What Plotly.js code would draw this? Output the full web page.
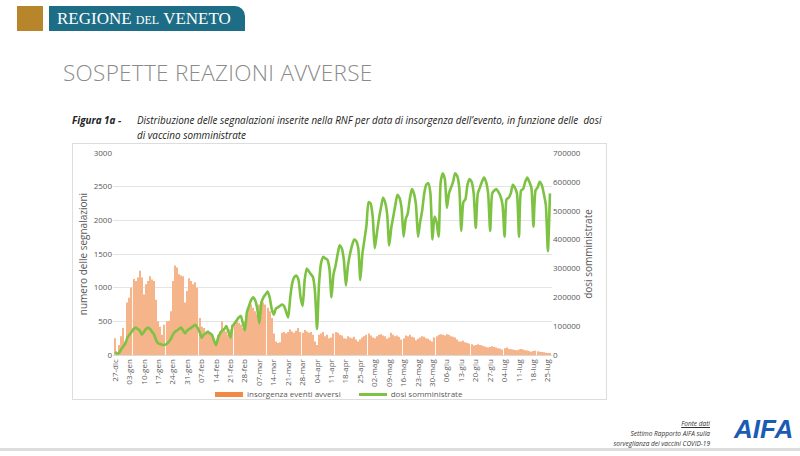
<!DOCTYPE html>
<html>
<head>
<meta charset="utf-8">
<script src="https://cdn.plot.ly/plotly-3.0.1.min.js"></script>
<style>
body { margin: 0; width: 800px; height: 456px; background: #fff; font-family: "Open Sans", sans-serif; position: relative; overflow: hidden; }
#banner { position: absolute; left: 17px; top: 6px; width: 228px; height: 25px; }
#logo { position: absolute; left: 0; top: 0; width: 26px; height: 25px; background: #b8862a; }
#name { position: absolute; left: 32px; top: 0; width: 196px; height: 25px; background: #1e6d86; border-radius: 0 10px 0 0; color: #fff; font-family: "Liberation Serif", serif; font-size: 17px; line-height: 25px; padding-left: 8px; box-sizing: border-box; white-space: nowrap; }
#title { position: absolute; left: 63px; top: 57px; color: #8a8a8a; font-size: 22.5px; font-weight: 300; letter-spacing: 0.3px; }
#cap { position: absolute; left: 72px; top: 113px; font-size: 9.9px; font-style: italic; color: #222; line-height: 15px; white-space: nowrap; }
#cap b { display: inline-block; width: 65px; }
#plot { position: absolute; left: 72px; top: 143px; width: 535px; height: 257px; border: 1px solid #ddd; box-sizing: border-box; }
#leg { position: absolute; left: 215px; top: 388px; font-size: 8px; color: #595959; }
#leg span.b { display: inline-block; width: 28px; height: 5px; background: #F08A45; vertical-align: middle; margin-right: 4px; }
#leg span.l { display: inline-block; width: 28px; height: 3px; background: #7DC242; vertical-align: middle; margin: 0 4px 0 18px; }
#fonte { position: absolute; left: 590px; top: 419px; width: 120px; text-align: right; font-size: 6.5px; font-style: italic; color: #333; line-height: 10px; }
#aifa { position: absolute; left: 734px; top: 414px; font-family: "Liberation Sans", sans-serif; font-size: 26px; font-weight: bold; color: #1a5bb5; font-style: italic; }
#line { position: absolute; left: 0; top: 448px; width: 800px; height: 3px; background: #ddd; }
</style>
</head>
<body>
<div id="banner"><div id="logo"></div><div id="name">REGIONE <span style="font-size:12px">DEL</span> VENETO</div></div>
<div id="title">SOSPETTE REAZIONI AVVERSE</div>
<div id="cap"><b>Figura 1a -</b>Distribuzione delle segnalazioni inserite nella RNF per data di insorgenza dell’evento, in funzione delle &nbsp;dosi<br><span style="display:inline-block;width:65px"></span>di vaccino somministrate</div>
<div id="plot"></div>
<div id="leg"><span class="b"></span>insorgenza eventi avversi<span class="l"></span>dosi somministrate</div>
<div id="fonte"><u>Fonte dati</u><br>Settimo Rapporto AIFA sulla<br>sorveglianza dei vaccini COVID-19</div>
<div id="aifa">AIFA</div>
<div id="line"></div>
<script>
const startDate = '2020-12-27'

const segnalazioni = [
  250, 30, 150, 280, 400, 200, 780,
  850, 1000, 1130, 1100, 1150, 1250, 1150,
  900, 1050, 1100, 1170, 1120, 1100, 820,
  500, 420, 300, 450, 500, 510, 650,
  1100, 1330, 1300, 1200, 1180, 1170, 780,
  950, 1140, 1100, 1050, 1080, 1000, 550,
  420, 400, 350, 360, 340, 300, 200,
  200, 300, 350, 500, 400, 350, 300,
  380, 450, 480, 500, 480, 450, 400,
  500, 650, 700, 750, 700, 650, 600,
  750, 800, 780, 750, 700, 650, 550,
  320, 200, 180, 190, 330, 340, 320,
  340, 380, 350, 330, 360, 400, 340,
  330, 370, 350, 330, 340, 300, 200,
  150, 300, 320, 340, 280, 300, 250,
  260, 320, 340, 330, 300, 290, 250,
  240, 280, 260, 250, 270, 230, 200,
  230, 260, 280, 300, 320, 290, 260,
  250, 280, 300, 310, 290, 280, 240,
  260, 330, 300, 280, 290, 270, 230,
  250, 290, 280, 300, 270, 260, 220,
  240, 260, 280, 270, 250, 240, 220,
  200, 260, 280, 300, 310, 300, 290,
  310, 300, 280, 270, 260, 230, 200,
  200, 210, 190, 180, 170, 160, 140,
  150, 160, 150, 140, 130, 120, 110,
  120, 130, 120, 110, 100, 95, 80,
  100, 110, 90, 85, 80, 75, 70,
  80, 90, 80, 70, 65, 60, 50,
  60, 65, 55, 50, 45, 40, 35,
  20, 15
]

// migliaia di dosi
const dosiK = [
  10, 5, 8, 20, 30, 40, 60,
  70, 80, 90, 95, 90, 85, 70,
  80, 90, 95, 90, 80, 70, 50,
  40, 38, 35, 35, 38, 45, 55,
  70, 80, 85, 90, 95, 85, 75,
  85, 90, 95, 100, 105, 95, 80,
  60, 70, 75, 80, 75, 70, 50,
  35, 60, 75, 85, 90, 100, 80,
  60, 100, 110, 120, 130, 135, 110,
  85, 150, 170, 190, 200, 190, 160,
  110, 180, 200, 210, 220, 200, 160,
  140, 160, 165, 170, 175, 170, 150,
  130, 200, 250, 270, 275, 260, 200,
  170, 260, 300, 290, 280, 270, 220,
  90, 250, 320, 340, 335, 330, 300,
  200, 280, 310, 350, 380, 370, 330,
  240, 310, 350, 380, 400, 395, 370,
  260, 350, 400, 450, 530, 525, 480,
  370, 420, 470, 510, 545, 530, 490,
  380, 440, 480, 520, 555, 545, 510,
  410, 470, 490, 540, 575, 560, 520,
  410, 460, 500, 560, 590, 595, 560,
  400, 480, 460, 410, 600, 630, 610,
  510, 560, 580, 600, 630, 620, 580,
  430, 530, 540, 590, 610, 600, 560,
  440, 560, 580, 600, 615, 600, 560,
  430, 560, 570, 575, 565, 550, 520,
  410, 540, 545, 560, 590, 580, 560,
  410, 570, 575, 600, 615, 600, 580,
  445, 570, 580, 600, 590, 560, 520,
  360, 560
]

const tickLabels = ['27-dic', '03-gen', '10-gen', '17-gen', '24-gen', '31-gen', '07-feb', '14-feb',
  '21-feb', '28-feb', '07-mar', '14-mar', '21-mar', '28-mar', '04-apr', '11-apr', '18-apr',
  '25-apr', '02-mag', '09-mag', '16-mag', '23-mag', '30-mag', '06-giu', '13-giu', '20-giu',
  '27-giu', '04-lug', '11-lug', '18-lug', '25-lug']

function dayString(i) {
  const d = new Date(startDate + 'T00:00:00Z')
  d.setUTCDate(d.getUTCDate() + i)
  return d.toISOString().slice(0, 10)
}

const days = segnalazioni.map((v, i) => dayString(i))
const tickVals = tickLabels.map((t, i) => dayString(i * 7))
const dosi = dosiK.map(v => v * 1000)

const traceBars = {
  x: days, y: segnalazioni, type: 'bar', name: 'insorgenza eventi avversi',
  marker: { color: '#F6B48A' }
}
const traceDosi = {
  x: days, y: dosi, type: 'scatter', mode: 'lines', name: 'dosi somministrate',
  yaxis: 'y2', line: { color: '#7DC242', width: 2.6, shape: 'spline', smoothing: 0.6 }
}

const axisFont = { family: 'Open Sans, sans-serif', size: 8, color: '#595959' }
const titleFont = { family: 'Open Sans, sans-serif', size: 10, color: '#595959' }

const layout = {
  width: 533, height: 255,
  margin: { l: 40, r: 54, t: 9, b: 44 },
  paper_bgcolor: 'rgba(0,0,0,0)', plot_bgcolor: 'rgba(0,0,0,0)',
  bargap: 0.45, showlegend: false,
  xaxis: {
    type: 'date', tickvals: tickVals, ticktext: tickLabels, tickangle: -90, automargin: false,
    tickfont: axisFont, showgrid: false, showline: true, linecolor: '#d9d9d9',
    range: [dayString(-1), dayString(212)]
  },
  yaxis: {
    range: [0, 3000], dtick: 500, tickfont: axisFont, gridcolor: '#e4e4e4', zeroline: false, automargin: false,
    title: { text: 'numero delle segnalazioni', font: titleFont, standoff: 4 }
  },
  yaxis2: {
    overlaying: 'y', side: 'right', range: [0, 700000], dtick: 100000, tickfont: axisFont,
    showgrid: false, zeroline: false, tickformat: 'd', automargin: false,
    title: { text: 'dosi somministrate', font: titleFont, standoff: 4 }
  }
}

Plotly.newPlot('plot', [traceBars, traceDosi], layout, { displayModeBar: false })
</script>
</body>
</html>
